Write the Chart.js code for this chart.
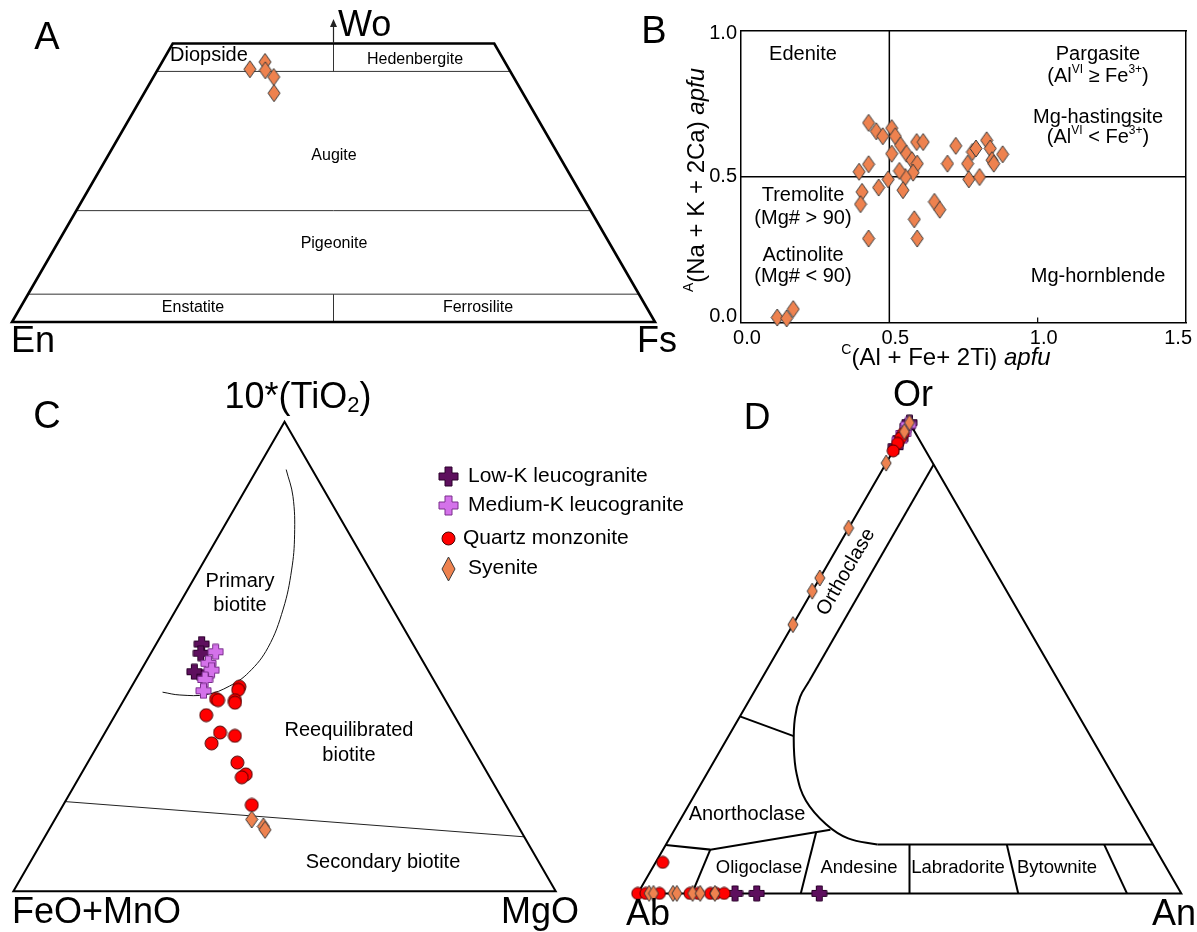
<!DOCTYPE html>
<html>
<head>
<meta charset="utf-8">
<script src="https://cdn.jsdelivr.net/npm/chart.js@4.4.0/dist/chart.umd.min.js"></script>
<style>
  html, body { margin: 0; padding: 0; background: #fff; }
  #wrap { position: relative; width: 1197px; height: 932px; overflow: hidden; }
  #wrap canvas { position: absolute; left: 0; top: 0; }
</style>
</head>
<body>
<div id="wrap">
  <canvas id="chartA" width="1197" height="932"></canvas>
  <canvas id="chartB" width="1197" height="932"></canvas>
  <canvas id="chartC" width="1197" height="932"></canvas>
  <canvas id="chartD" width="1197" height="932"></canvas>
</div>
<script>
// ---- A: pyroxene, syenite (Wo, En, Fs in %) ----
const pxWo = [45.4, 46.7, 45.2, 44.0, 41.1];
const pxEn = [40.3, 37.3, 38.0, 37.3, 38.7];
const pxFs = [14.3, 16.0, 16.8, 18.7, 20.2];

// ---- B: amphibole, syenite (apfu) ----
const amphC = [0.430, 0.456, 0.478, 0.508, 0.520, 0.538, 0.508, 0.558, 0.576, 0.592,
               0.614, 0.594, 0.580, 0.554, 0.534, 0.496, 0.464, 0.430, 0.398, 0.408,
               0.403, 0.430, 0.546, 0.652, 0.670, 0.584, 0.594, 0.696, 0.724, 0.764,
               0.768, 0.780, 0.792, 0.804, 0.828, 0.840, 0.846, 0.852, 0.882, 0.122,
               0.154, 0.176];
const amphA = [0.685, 0.656, 0.639, 0.667, 0.639, 0.608, 0.579, 0.579, 0.557, 0.619,
               0.619, 0.545, 0.514, 0.499, 0.520, 0.491, 0.463, 0.543, 0.517, 0.448,
               0.406, 0.288, 0.454, 0.414, 0.387, 0.354, 0.288, 0.545, 0.606, 0.545,
               0.491, 0.585, 0.597, 0.499, 0.625, 0.597, 0.557, 0.545, 0.577, 0.017,
               0.014, 0.046];
const bTicksX = [0, 0.5, 1.0, 1.5];
const bTicksY = [0, 0.5, 1.0];

// ---- C: biotite [FeO+MnO, 10*TiO2, MgO] ----
const bioLowK = [[39.0, 52.7, 8.4], [40.1, 50.7, 9.2], [43.3, 46.8, 10.0], [42.0, 45.6, 12.4]];
const bioMedK = [[37.2, 51.0, 11.8], [39.8, 48.6, 11.7], [39.9, 47.1, 13.0], [42.1, 45.1, 12.8],
                 [43.6, 42.7, 13.7]];
const bioQzMonz = [[42.2, 41.0, 16.9], [41.9, 40.7, 17.4], [36.6, 43.6, 19.9], [37.1, 42.9, 20.0],
                   [38.8, 40.7, 20.5], [39.1, 40.2, 20.8], [45.7, 37.5, 16.8], [45.0, 33.8, 21.2],
                   [47.7, 31.5, 20.8], [42.6, 33.1, 24.3], [45.0, 27.4, 27.6], [44.7, 24.9, 30.4],
                   [45.8, 24.3, 30.0], [46.9, 18.4, 34.8]];
const bioSyenite = [[48.4, 15.3, 36.3], [47.0, 13.8, 39.2], [47.1, 13.1, 39.9]];

// ---- D: feldspar [Ab, An, Or] ----
const fspLowK = [[0, 0, 100], [0.8, 0, 99.2], [3.4, 0, 96.6], [5.1, 0, 94.9],
                 [82.1, 17.9, 0], [78.1, 21.9, 0], [66.6, 33.4, 0]];
const fspMedK = [[0.5, 0, 99.5], [2.3, 0, 97.7], [3.7, 0, 96.3]];
const fspQzMonz = [[2.3, 0, 97.7], [3.3, 0, 96.7], [4.4, 0, 95.6], [6.0, 0, 94.0], [92.1, 1.3, 6.6],
                   [100, 0, 0], [98.5, 1.5, 0], [96.0, 4.0, 0], [90.4, 9.6, 0], [88.9, 11.1, 0],
                   [86.6, 13.4, 0], [85.6, 14.4, 0], [84.1, 15.9, 0]];
const fspSyenite = [[0, 0, 100], [1.9, 0, 98.1], [8.6, 0, 91.4], [22.4, 0, 77.6], [33.0, 0, 67.0],
                    [35.8, 0, 64.2], [42.9, 0, 57.1], [97.9, 2.1, 0], [97.1, 2.9, 0], [93.5, 6.5, 0],
                    [92.8, 7.2, 0], [89.9, 10.1, 0], [88.5, 11.5, 0], [85.8, 14.2, 0]];

const seriesNames = ['Low-K leucogranite', 'Medium-K leucogranite', 'Quartz monzonite', 'Syenite'];

// field boundaries, ternary (left, right, top) in %
const pyxOutline = [[100, 0, 0], [0, 100, 0], [0, 50, 50], [50, 0, 50], [100, 0, 0], [0, 100, 0]];
const pyxWo45 = [[55, 0, 45], [0, 55, 45]];
const pyxDiHd = [[27.5, 27.5, 45], [25, 25, 50]];
const pyxWo20 = [[80, 0, 20], [0, 80, 20]];
const pyxWo5 = [[95, 0, 5], [0, 95, 5]];
const pyxEnFs = [[50, 50, 0], [47.5, 47.5, 5]];

const triOutline = [[100, 0, 0], [0, 100, 0], [0, 0, 100], [100, 0, 0], [0, 100, 0]];
// biotite curve and lower boundary as [FeO+MnO, 10*TiO2, MgO]
const bioPrimaryCurve = [[4.8, 89.8, 5.4], [6.4, 84.1, 9.5], [10.2, 75.9, 13.9], [14.5, 68.4, 17.1],
                         [20.2, 60.1, 19.7], [27.1, 51.9, 21.0], [33.3, 46.6, 20.1], [38.3, 43.7, 18.0],
                         [43.4, 41.9, 14.7], [48.4, 41.8, 9.8], [51.3, 42.4, 6.3]];
const bioSecondaryLine = [[80.9, 19.1, 0], [0, 11.6, 88.4]];

// feldspar boundaries [Ab, An, Or]
const fspOrthStraight = [[0, 8.9, 91.1], [45.9, 9.0, 45.1]];
const fspOrthCurve = [[45.9, 9.0, 45.1], [49.2, 9.0, 41.7], [52.5, 10.3, 37.3], [55.7, 13.1, 31.3],
                      [58.1, 16.6, 25.3], [59.2, 21.1, 19.7], [58.0, 27.3, 14.7], [55.5, 32.9, 11.7],
                      [50.7, 38.9, 10.4]];
const fspPlagTop = [[50.7, 38.9, 10.4], [0, 89.6, 10.4]];
const fspAnorthTop = [[62.4, 0, 37.6], [54.6, 12.0, 33.4]];
const fspAnorthLow = [[89.7, 0, 10.3], [82.0, 8.7, 9.3], [57.8, 28.7, 13.5]];
const fspPlagDiv = [
  [[82.0, 8.7, 9.3], [90, 10, 0]],
  [[60.6, 26.3, 13.1], [70, 30, 0]],
  [[44.8, 44.8, 10.4], [50, 50, 0]],
  [[26.9, 62.7, 10.4], [30, 70, 0]],
  [[9.0, 80.6, 10.4], [10, 90, 0]]
];

const W = 1197, H = 932;
const SQ3 = Math.sqrt(3) / 2;
const FONT = '"Liberation Sans", Arial, Helvetica, sans-serif';
const ORANGE = '#EE824F', EDGE = '#3a3a3a';

// ternary -> cartesian (left corner at 0, right corner at 1)
function tern(l, r, t) {
  const s = l + r + t;
  return { x: (r + t / 2) / s, y: (t / s) * SQ3 };
}
const terns = arr => arr.map(p => tern(p[0], p[1], p[2]));
// biotite rows are [Fe, Ti, Mg] -> left Fe, right Mg, top Ti
const bioXY = arr => arr.map(p => tern(p[0], p[2], p[1]));

function makeMarker(kind, w, h, fill, stroke) {
  const c = document.createElement('canvas');
  const cw = w + 2, ch = (kind === 'diamond' ? h : w) + 2;
  c.width = cw; c.height = ch;
  const g = c.getContext('2d');
  const cx = cw / 2, cy = ch / 2;
  g.beginPath();
  if (kind === 'diamond') {
    g.moveTo(cx, 1); g.lineTo(cw - 1, cy); g.lineTo(cx, ch - 1); g.lineTo(1, cy); g.closePath();
  } else if (kind === 'circle') {
    g.arc(cx, cy, w / 2, 0, Math.PI * 2);
  } else {
    const a = w / 2, t = h / 2;
    const P = [[-t, -a], [t, -a], [t, -t], [a, -t], [a, t], [t, t], [t, a], [-t, a], [-t, t], [-a, t], [-a, -t], [-t, -t]];
    P.forEach(([dx, dy], i) => i ? g.lineTo(cx + dx, cy + dy) : g.moveTo(cx + dx, cy + dy));
    g.closePath();
  }
  g.fillStyle = fill; g.fill();
  g.lineWidth = 1; g.strokeStyle = stroke; g.stroke();
  return c;
}

const DARK = ['#5E0F5E', '#2a002a'], LIGHT = ['#D472EA', '#7a2e8c'], RED = ['#FF0000', '#4a0000'];
const mkDiamond = makeMarker('diamond', 12, 17, ORANGE, EDGE);
const mkDiamondSm = makeMarker('diamond', 10, 16, ORANGE, EDGE);
const mkDark = makeMarker('plus', 15, 6, DARK[0], DARK[1]);
const mkLight = makeMarker('plus', 15, 6, LIGHT[0], LIGHT[1]);
const mkRed = makeMarker('circle', 13, 13, RED[0], RED[1]);
const mkRedSm = makeMarker('circle', 12, 12, RED[0], RED[1]);
// bigger symbols for the legend box
const legendMarks = [
  makeMarker('plus', 19, 7, DARK[0], DARK[1]),
  makeMarker('plus', 19, 7, LIGHT[0], LIGHT[1]),
  makeMarker('circle', 13, 13, RED[0], RED[1]),
  makeMarker('diamond', 13, 24, ORANGE, EDGE)
];

// text with optional italic / superscript / subscript pieces
function drawRich(ctx, parts, x, y, size, align, angle) {
  const fontFor = p => (p.it ? 'italic ' : '') + ((p.sup || p.sub) ? Math.round(size * 0.6) : size) + 'px ' + FONT;
  ctx.save();
  ctx.translate(x, y);
  if (angle) ctx.rotate(angle);
  let total = 0;
  const widths = parts.map(p => { ctx.font = fontFor(p); const w = ctx.measureText(p.t).width; total += w; return w; });
  let cx = align === 'left' ? 0 : align === 'right' ? -total : -total / 2;
  ctx.textAlign = 'left';
  ctx.textBaseline = 'middle';
  ctx.fillStyle = '#000';
  parts.forEach((p, i) => {
    ctx.font = fontFor(p);
    const dy = p.sup ? -size * 0.33 : p.sub ? size * 0.22 : 0;
    ctx.fillText(p.t, cx, dy);
    cx += widths[i];
  });
  ctx.restore();
}

function textLayer(items, extra) {
  return {
    id: 'textLayer',
    afterDraw(chart) {
      const ctx = chart.ctx;
      if (extra) extra(chart, ctx);
      items.forEach(it => drawRich(ctx, it.parts || [{ t: it.t }], it.x, it.y, it.size, it.align || 'center', it.rot || 0));
    }
  };
}

function lineDs(pts, width, color, tension) {
  return { data: pts, showLine: true, pointRadius: 0, borderColor: color, borderWidth: width,
           tension: tension || 0, clip: false, order: 10, borderJoinStyle: 'miter' };
}
function pointDs(label, pts, marker, order) {
  return { label, data: pts, showLine: false, pointStyle: marker, pointRadius: 7, clip: false, order };
}

function ternaryChart(id, area, ymax, datasets, items, extra) {
  const w = area.right - area.left;
  return new Chart(document.getElementById(id), {
    type: 'scatter',
    data: { datasets },
    options: {
      responsive: false, animation: false, devicePixelRatio: 1, events: [],
      layout: { padding: { left: area.left, right: W - area.right, top: area.bottom - w * ymax, bottom: H - area.bottom } },
      scales: {
        x: { display: false, min: 0, max: 1 },
        y: { display: false, min: 0, max: ymax }
      },
      plugins: { legend: { display: false }, tooltip: { enabled: false } }
    },
    plugins: [textLayer(items, extra)]
  });
}

// ================= A =================
ternaryChart('chartA', { left: 12, right: 655, bottom: 322 }, 0.5 * SQ3, [
  pointDs('Syenite', pxWo.map((wo, i) => tern(pxEn[i], pxFs[i], wo)), mkDiamond, 1),
  lineDs(terns(pyxOutline), 2.6, '#000'),
  lineDs(terns(pyxWo45), 1, '#333'),
  lineDs(terns(pyxDiHd), 1, '#333'),
  lineDs(terns(pyxWo20), 1, '#333'),
  lineDs(terns(pyxWo5), 1, '#333'),
  lineDs(terns(pyxEnFs), 1, '#333')
], [
  { t: 'A', x: 47, y: 39, size: 38 },
  { t: 'Wo', x: 338, y: 26, size: 36, align: 'left' },
  { t: 'En', x: 33, y: 342, size: 36 },
  { t: 'Fs', x: 657, y: 342, size: 36 },
  { t: 'Diopside', x: 170, y: 55, size: 20, align: 'left' },
  { t: 'Hedenbergite', x: 415, y: 60, size: 16 },
  { t: 'Augite', x: 334, y: 156, size: 16 },
  { t: 'Pigeonite', x: 334, y: 244, size: 16 },
  { t: 'Enstatite', x: 193, y: 308, size: 16 },
  { t: 'Ferrosilite', x: 478, y: 308, size: 16 }
], (chart, ctx) => {
  // arrow pointing to the Wo corner
  const x = chart.scales.x.getPixelForValue(0.5);
  const y0 = chart.scales.y.getPixelForValue(0.5 * SQ3);
  ctx.save();
  ctx.strokeStyle = '#222'; ctx.fillStyle = '#222'; ctx.lineWidth = 1.2;
  ctx.beginPath(); ctx.moveTo(x, y0); ctx.lineTo(x, 25); ctx.stroke();
  ctx.beginPath(); ctx.moveTo(x, 19); ctx.lineTo(x + 3.5, 27); ctx.lineTo(x - 3.5, 27); ctx.closePath(); ctx.fill();
  ctx.restore();
});

// ================= B =================
const amphPts = amphC.map((v, i) => ({ x: v, y: amphA[i] }));
const frameAxis = (pos, min, max) => ({
  position: pos, min, max,
  afterFit: s => { if (pos === 'top') s.height = 0; else s.width = 0; },
  border: { display: true, color: '#000', width: 1.5 },
  grid: { drawOnChartArea: false, drawTicks: false },
  ticks: { display: false }
});
new Chart(document.getElementById('chartB'), {
  type: 'scatter',
  data: {
    datasets: [
      pointDs('Syenite', amphPts, mkDiamond, 1),
      lineDs([{ x: 0.5, y: 0 }, { x: 0.5, y: 1 }], 1.5, '#000'),
      lineDs([{ x: 0, y: 0.5 }, { x: 1.5, y: 0.5 }], 1.5, '#000')
    ]
  },
  options: {
    responsive: false, animation: false, devicePixelRatio: 1, events: [],
    layout: { padding: { left: 741 - 50, right: W - 1186, top: 31, bottom: H - 322.5 - 40 } },
    scales: {
      x: {
        min: 0, max: 1.5,
        afterBuildTicks: s => { s.ticks = bTicksX.map(v => ({ value: v })); },
        afterFit: s => { s.height = 40; s.paddingLeft = 0; s.paddingRight = 0; },
        border: { display: true, color: '#000', width: 1.5 },
        grid: { drawOnChartArea: false, drawTicks: false },
        ticks: { display: false }
      },
      y: {
        min: 0, max: 1,
        afterBuildTicks: s => { s.ticks = bTicksY.map(v => ({ value: v })); },
        afterFit: s => { s.width = 50; s.paddingTop = 0; s.paddingBottom = 0; },
        border: { display: true, color: '#000', width: 1.5 },
        grid: { drawOnChartArea: false, drawTicks: false },
        ticks: { display: false }
      },
      xTop: frameAxis('top', 0, 1.5),
      yRight: frameAxis('right', 0, 1)
    },
    plugins: { legend: { display: false }, tooltip: { enabled: false } }
  },
  plugins: [textLayer([
    { t: 'B', x: 654, y: 33, size: 38 },
    { t: 'Edenite', x: 803, y: 54, size: 20 },
    { t: 'Pargasite', x: 1098, y: 54, size: 20 },
    { parts: [{ t: '(Al' }, { t: 'VI', sup: true }, { t: ' \u2265 Fe' }, { t: '3+', sup: true }, { t: ')' }], x: 1098, y: 76, size: 20 },
    { t: 'Mg-hastingsite', x: 1098, y: 117, size: 20 },
    { parts: [{ t: '(Al' }, { t: 'VI', sup: true }, { t: ' < Fe' }, { t: '3+', sup: true }, { t: ')' }], x: 1098, y: 137, size: 20 },
    { t: 'Tremolite', x: 803, y: 195, size: 20 },
    { t: '(Mg# > 90)', x: 803, y: 218, size: 20 },
    { t: 'Actinolite', x: 803, y: 255, size: 20 },
    { t: '(Mg# < 90)', x: 803, y: 276, size: 20 },
    { t: 'Mg-hornblende', x: 1098, y: 276, size: 20 },
    { parts: [{ t: 'A', sup: true }, { t: '(Na + K + 2Ca) ' }, { t: 'apfu', it: true }], x: 697, y: 180, size: 24, rot: -Math.PI / 2 },
    { parts: [{ t: 'C', sup: true }, { t: '(Al + Fe+ 2Ti) ' }, { t: 'apfu', it: true }], x: 946, y: 358, size: 24 }
  ], (chart, ctx) => {
    const sx = chart.scales.x, sy = chart.scales.y, area = chart.chartArea;
    ctx.save();
    // small inward tick at 1.0 on the bottom axis
    ctx.strokeStyle = '#000'; ctx.lineWidth = 1.2;
    ctx.beginPath(); ctx.moveTo(sx.getPixelForValue(1.0), area.bottom); ctx.lineTo(sx.getPixelForValue(1.0), area.bottom - 5); ctx.stroke();
    // tick labels, kept inside the frame ends
    ctx.font = '20px ' + FONT; ctx.fillStyle = '#000';
    ctx.textBaseline = 'middle'; ctx.textAlign = 'center';
    sx.ticks.forEach(t => {
      const s = t.value.toFixed(1), w = ctx.measureText(s).width;
      const cx = Math.min(sx.getPixelForValue(t.value) + 6, area.right + 6 - w / 2);
      ctx.fillText(s, cx, area.bottom + 16);
    });
    ctx.textAlign = 'right';
    sy.ticks.forEach(t => {
      const cy = Math.max(Math.min(sy.getPixelForValue(t.value), area.bottom - 6), area.top + 2);
      ctx.fillText(t.value.toFixed(1), area.left - 4, cy);
    });
    ctx.restore();
  })]
});

// ================= C =================
const legendY = [476.5, 505.5, 538.5, 568.5];
const legendX = [468, 468, 463, 468];
ternaryChart('chartC', { left: 13.4, right: 555.7, bottom: 891.3 }, SQ3, [
  pointDs(seriesNames[3], bioXY(bioSyenite), mkDiamond, 1),
  pointDs(seriesNames[2], bioXY(bioQzMonz), mkRed, 2),
  pointDs(seriesNames[1], bioXY(bioMedK), mkLight, 3),
  pointDs(seriesNames[0], bioXY(bioLowK), mkDark, 4),
  lineDs(terns(triOutline), 2, '#000'),
  lineDs(bioXY(bioPrimaryCurve), 1, '#111', 0.4),
  lineDs(bioXY(bioSecondaryLine), 1, '#222')
], [
  { t: 'C', x: 47, y: 418, size: 38 },
  { parts: [{ t: '10*(TiO' }, { t: '2', sub: true }, { t: ')' }], x: 298, y: 398, size: 36 },
  { t: 'FeO+MnO', x: 12, y: 913, size: 36, align: 'left' },
  { t: 'MgO', x: 501, y: 913, size: 36, align: 'left' },
  { t: 'Primary', x: 240, y: 581, size: 20 },
  { t: 'biotite', x: 240, y: 605, size: 20 },
  { t: 'Reequilibrated', x: 349, y: 730, size: 20 },
  { t: 'biotite', x: 349, y: 755, size: 20 },
  { t: 'Secondary biotite', x: 383, y: 862, size: 20 },
  ...seriesNames.map((n, i) => ({ t: n, x: legendX[i], y: legendY[i], size: 21, align: 'left' }))
], (chart, ctx) => {
  legendMarks.forEach((m, i) => ctx.drawImage(m, Math.round(448.5 - m.width / 2), Math.round(legendY[i] - m.height / 2)));
});

// ================= D =================
ternaryChart('chartD', { left: 637.7, right: 1181.3, bottom: 893.4 }, SQ3, [
  pointDs(seriesNames[3], terns(fspSyenite), mkDiamondSm, 1),
  pointDs(seriesNames[2], terns(fspQzMonz), mkRedSm, 2),
  pointDs(seriesNames[1], terns(fspMedK), mkLight, 3),
  pointDs(seriesNames[0], terns(fspLowK), mkDark, 4),
  lineDs(terns(triOutline), 2, '#000'),
  lineDs(terns(fspOrthStraight), 2, '#000'),
  lineDs(terns(fspOrthCurve), 2, '#000', 0.4),
  lineDs(terns(fspPlagTop), 2, '#000'),
  lineDs(terns(fspAnorthTop), 2, '#000'),
  lineDs(terns(fspAnorthLow), 2, '#000'),
  ...fspPlagDiv.map(seg => lineDs(terns(seg), 2, '#000'))
], [
  { t: 'D', x: 757, y: 419, size: 37 },
  { t: 'Or', x: 913, y: 396, size: 36 },
  { t: 'Ab', x: 626, y: 915, size: 36, align: 'left' },
  { t: 'An', x: 1152, y: 915, size: 36, align: 'left' },
  { t: 'Orthoclase', x: 846, y: 572, size: 20, rot: -Math.PI / 3 },
  { t: 'Anorthoclase', x: 747, y: 814, size: 20 },
  { t: 'Oligoclase', x: 759, y: 868, size: 18.5 },
  { t: 'Andesine', x: 859, y: 868, size: 18.5 },
  { t: 'Labradorite', x: 958, y: 868, size: 18.5 },
  { t: 'Bytownite', x: 1057, y: 868, size: 18.5 }
]);
</script>
</body>
</html>
